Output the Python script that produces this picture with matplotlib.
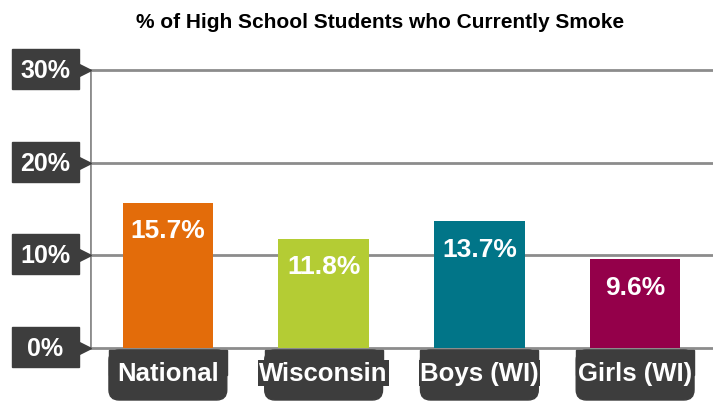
import matplotlib
matplotlib.use("Agg")
import matplotlib.pyplot as plt
from matplotlib.patches import FancyBboxPatch, Rectangle
from matplotlib.transforms import blended_transform_factory

plt.rcParams['font.family'] = ['Liberation Sans', 'DejaVu Sans']

# data
categories = ["National", "Wisconsin", "Boys (WI)", "Girls (WI)"]
values = [15.7, 11.8, 13.7, 9.6]
colors = ["#E36C0A", "#B4CC34", "#017588", "#94004A"]
yticks = [0, 10, 20, 30]
ytick_labels = ["0%", "10%", "20%", "30%"]
title = "% of High School Students who Currently Smoke"

box_color = "#3D3D3D"
grid_color = "#8C8C8C"

W, H = 713, 402
AW, AH = W - 90, 278  # axes size in px
fig = plt.figure(figsize=(W / 100, H / 100), dpi=100)
ax = fig.add_axes([90 / W, (H - 349) / H, AW / W, AH / H])

x = range(len(categories))
ax.bar(x, values, width=0.58, color=colors, zorder=2)
ax.set_xlim(-0.5, len(categories) - 0.5)
ax.set_ylim(0, 30)

# grid + frame
for t in yticks:
    ax.axhline(t, color=grid_color, lw=2, zorder=1, clip_on=False)
for s in ax.spines.values():
    s.set_visible(False)
ax.axvline(-0.5, color=grid_color, lw=2, zorder=1)
ax.set_xticks([])
ax.set_yticks([])

# value labels
for i, v in enumerate(values):
    ax.text(i, v - 3.0, f"{v}%", ha="center", va="center", color="white",
            fontsize=19, fontweight="bold", zorder=3)

# y tick labels: dark boxes with a small arrow pointing at the line
ytr = blended_transform_factory(ax.transAxes, ax.transData)
px_y = 30 / AH  # data units per pixel on y
for t, lab in zip(yticks, ytick_labels):
    ax.add_patch(Rectangle((-78 / AW, t - 19 * px_y), 67 / AW, 40 * px_y,
                           transform=ytr, color=box_color, clip_on=False, zorder=4))
    ax.plot([-7 / AW], [t], marker=">", markersize=11, color=box_color,
            transform=ytr, clip_on=False, zorder=4)
    ax.text(-44.5 / AW, t, lab, transform=ytr, ha="center", va="center",
            color="white", fontsize=18, fontweight="bold", zorder=5, clip_on=False)

# x tick labels: boxes hanging below the axis, rounded at the bottom
xtr = blended_transform_factory(ax.transData, ax.transAxes)
bw = 118 / 156
top, bot = -2 / AH, -52 / AH
for i, lab in enumerate(categories):
    ax.add_patch(FancyBboxPatch((i - bw / 2, bot), bw, top - bot,
                                boxstyle="round,pad=0,rounding_size=0.065",
                                mutation_aspect=156 / AH,
                                transform=xtr, color=box_color, clip_on=False, zorder=4))
    ax.add_patch(Rectangle((i - bw / 2, (top + bot) / 2), bw, (top - bot) / 2,
                           transform=xtr, color=box_color, clip_on=False, zorder=4))
    ax.text(i, -25 / AH, lab, transform=xtr, ha="center", va="center",
            color="white", fontsize=18.5, fontweight="bold", zorder=5, clip_on=False,
            bbox=dict(boxstyle="square,pad=0.05", fc=box_color, ec="none"))

fig.text(380 / W, 1 - 22 / H, title, ha="center", va="center",
         fontsize=15, fontweight="bold", color="black")

fig.savefig("out.png", dpi=100)
